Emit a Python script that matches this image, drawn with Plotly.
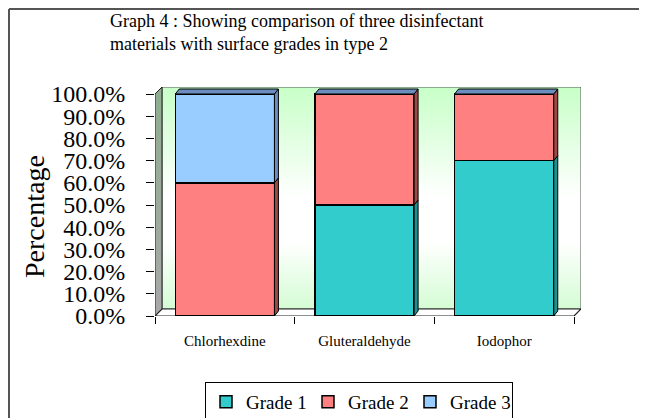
import plotly.graph_objects as go

# data
materials = ["Chlorhexdine", "Gluteraldehyde", "Iodophor"]
grade_1 = [0, 50, 70]
grade_2 = [60, 50, 30]
grade_3 = [40, 0, 0]
series_names = ["Grade 1", "Grade 2", "Grade 3"]
y_ticks = [0, 10, 20, 30, 40, 50, 60, 70, 80, 90, 100]

front_colors = ["#33CCCC", "#FF8080", "#99CCFF"]
side_colors = ["#1F9090", "#9E4848", "#6B8EBF"]
top_color = "#6B8EBF"

# the page body has an 8px margin, so the figure starts at (8, 8) on screen
OFF = 8
W, H = 647 - OFF, 418 - OFF
L, R, T, B = 155 - OFF, 66, 87 - OFF, 102
pw, ph = W - L - R, H - T - B
px_x = 419 / 3            # pixels per category
px_y = 222 / 100          # pixels per percent
x_rng = [-0.5, -0.5 + pw / px_x]
y_rng = [0, ph / px_y]
wdx, wdy = 7 / px_x, 7 / px_y        # wall depth
bdx, bdy = 4 / px_x, 5 / px_y        # bar depth
bar_w = 0.71
FONT = "Liberation Serif"

fig = go.Figure()

# back wall with gradient (base subplot, drawn under the bars)
x0, x1 = -0.5 + wdx, 2.5 + wdx
fig.add_trace(go.Scatter(
    x=[x0, x1, x1, x0, x0], y=[wdy, wdy, 100 + wdy, 100 + wdy, wdy],
    fill="toself", mode="lines", line=dict(color="#555555", width=1),
    fillgradient=dict(type="vertical", start=wdy, stop=100 + wdy,
                      colorscale=[[0, "#D4FCD4"], [0.3, "#FFFFFF"], [0.5, "#FFFFFF"], [1, "#C8FFC8"]]),
    showlegend=False, hoverinfo="skip", xaxis="x", yaxis="y"))
# left side wall
fig.add_trace(go.Scatter(
    x=[-0.5, -0.5 + wdx, -0.5 + wdx, -0.5, -0.5], y=[0, wdy, 100 + wdy, 100, 0],
    fill="toself", mode="lines", line=dict(color="#222222", width=1),
    fillgradient=dict(type="vertical", start=0, stop=100 + wdy,
                      colorscale=[[0, "#A8A8A8"], [1, "#8DAE8D"]]),
    showlegend=False, hoverinfo="skip", xaxis="x", yaxis="y"))
# floor
fig.add_trace(go.Scatter(
    x=[-0.5, 2.5, 2.5 + wdx, -0.5 + wdx, -0.5], y=[0, 0, wdy, wdy, 0],
    fill="toself", mode="lines", line=dict(color="#222222", width=1.2),
    fillcolor="#FFFFFF", showlegend=False, hoverinfo="skip", xaxis="x", yaxis="y"))

# stacked bars (overlay subplot)
series = [grade_1, grade_2, grade_3]
for name, vals, col in zip(series_names, series, front_colors):
    fig.add_trace(go.Bar(
        x=materials, y=vals, name=name, width=bar_w,
        marker=dict(color=col, line=dict(color="#000000", width=1.5)),
        xaxis="x2", yaxis="y2"))

# 3D faces of bars
shapes = []
for i in range(len(materials)):
    xr = i + bar_w / 2
    xl = i - bar_w / 2
    base = 0
    for vals, sc in zip(series, side_colors):
        v = vals[i]
        if v <= 0:
            continue
        top = base + v
        shapes.append(dict(
            type="path", xref="x2", yref="y2", layer="above",
            path=f"M{xr},{base} L{xr + bdx},{base + bdy} L{xr + bdx},{top + bdy} L{xr},{top} Z",
            fillcolor=sc, line=dict(color="#000000", width=1)))
        base = top
    shapes.append(dict(
        type="path", xref="x2", yref="y2", layer="above",
        path=f"M{xl},{base} L{xr},{base} L{xr + bdx},{base + bdy} L{xl + bdx},{base + bdy} Z",
        fillcolor=top_color, line=dict(color="#000000", width=1)))

# screen pixel -> paper coordinates
def px2paper_x(p):
    return (p - OFF - L) / pw

def px2paper_y(p):
    return (H - B - (p - OFF)) / ph

# outer frame (left and top edges)
shapes.append(dict(type="line", xref="paper", yref="paper",
                   x0=px2paper_x(9), x1=px2paper_x(9), y0=px2paper_y(9), y1=px2paper_y(430),
                   line=dict(color="#555555", width=2)))
shapes.append(dict(type="line", xref="paper", yref="paper",
                   x0=px2paper_x(9), x1=px2paper_x(660), y0=px2paper_y(9), y1=px2paper_y(9),
                   line=dict(color="#555555", width=2)))

annotations = [
    dict(text="Graph 4 : Showing comparison of three disinfectant<br>materials with surface grades in type 2",
         xref="paper", yref="paper", x=px2paper_x(108), y=px2paper_y(9),
         xanchor="left", yanchor="top", align="left", showarrow=False,
         font=dict(family=FONT, size=18, color="#000000")),
    dict(text="Percentage", xref="paper", yref="paper",
         x=px2paper_x(34), y=px2paper_y(217), textangle=-90,
         xanchor="center", yanchor="middle", showarrow=False,
         font=dict(family=FONT, size=28, color="#000000")),
]

fig.update_layout(
    width=W, height=H,
    margin=dict(l=L, r=R, t=T, b=B, autoexpand=False),
    paper_bgcolor="#FFFFFF", plot_bgcolor="#FFFFFF",
    barmode="stack",
    xaxis=dict(range=x_rng, visible=False, fixedrange=True),
    yaxis=dict(range=y_rng, visible=False, fixedrange=True),
    xaxis2=dict(overlaying="x", type="category", range=x_rng, showgrid=False,
                showline=False, zeroline=False, ticks="outside", tickson="boundaries",
                ticklen=7, tickcolor="#000000", tickwidth=1, ticklabelstandoff=14,
                tickfont=dict(family=FONT, size=15, color="#000000")),
    yaxis2=dict(overlaying="y", range=y_rng, tickvals=y_ticks,
                ticktext=[f"{v:.1f}%" for v in y_ticks], showgrid=False,
                showline=False, zeroline=False, ticks="outside", ticklen=8,
                tickcolor="#000000", tickwidth=1, ticklabelstandoff=16,
                tickfont=dict(family=FONT, size=24, color="#000000")),
    legend=dict(orientation="h", traceorder="normal", xref="paper", yref="paper",
                x=px2paper_x(359), y=px2paper_y(402), xanchor="center", yanchor="middle",
                bordercolor="#000000", borderwidth=1, bgcolor="#FFFFFF",
                font=dict(family=FONT, size=19, color="#000000"),
                itemwidth=30, entrywidth=57, tracegroupgap=0),
    shapes=shapes,
    annotations=annotations,
    showlegend=True,
)

fig.write_html("out.html")
